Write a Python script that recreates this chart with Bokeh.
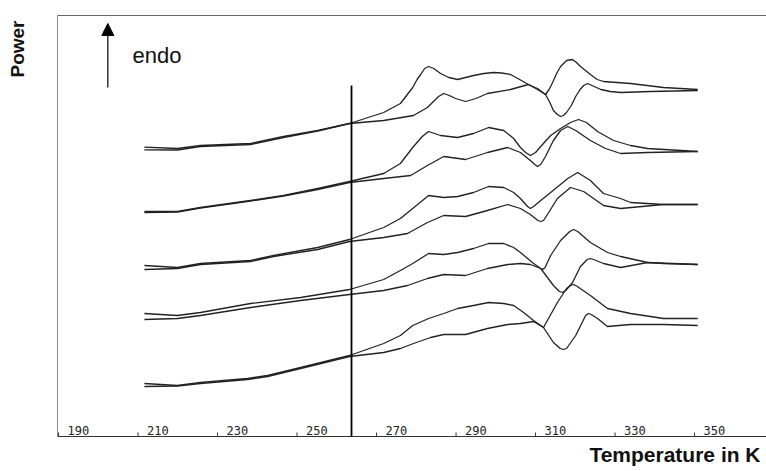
from bokeh.plotting import figure
from bokeh.models import Range1d, Label, Arrow, NormalHead
from bokeh.core.properties import value
from bokeh.embed import file_html
from bokeh.resources import INLINE
import math

# ---- data (temperature in K, power in arbitrary units, curves offset vertically) ----
tick_values = [190, 210, 230, 250, 270, 290, 310, 330, 350]
tick_labels = ["190", "210", "230", "250", "270", "290", "310", "330", "350"]

# pair 1 (top)
T_1a = [211.6, 219.9, 225.7, 238.3, 246.6, 255.2, 263.2, 271.8, 276.0, 279.1, 280.2, 281.1, 282.1, 283.1, 284.4,
        286.1, 288.2, 290.4, 292.4, 294.4, 297.0, 299.4, 301.5, 303.7, 306.0, 308.2, 310.5, 312.5, 313.6, 314.5,
        315.5, 316.3, 317.0, 317.8, 319.0, 320.1, 321.2, 322.1, 323.1, 324.2, 326.4, 328.8, 331.4, 338.9, 350.8]
P_1a = [289.3, 288, 291, 293, 300, 306, 313, 324, 333, 349, 357, 362, 368, 370, 368,
        363, 359, 357, 359, 361, 363, 364, 363.5, 362, 357, 352, 347, 342, 334, 326,
        322, 320, 321, 324, 331, 340, 347, 351, 353, 351, 347, 345, 344, 345, 346]
T_1b = [211.6, 219.9, 225.7, 238.3, 246.6, 255.2, 263.2, 271.8, 279.3, 282.8, 285.6, 286.9, 288.3, 289.9, 292.4,
        295.0, 297.9, 303.7, 308.2, 310.5, 312.5, 313.4, 314.3, 315.3, 316.3, 317.8, 319.3, 320.3, 321.3, 323.8,
        325.5, 327.1, 333.9, 342.2, 350.8]
P_1b = [286.7, 286.5, 290, 292, 299, 305.5, 313, 316, 321, 329, 340, 343, 341, 338, 335,
        338, 343, 347, 352, 348, 342, 347, 354, 363, 370, 376, 377, 374, 370, 362,
        357, 355, 353, 349, 347]

# pair 2
T_2a = [211.6, 219.9, 225.7, 238.3, 246.6, 255.2, 263.2, 271.8, 276.0, 279.1, 281.5, 283.1, 286.1, 290.4, 294.4,
        298.2, 302.0, 304.5, 306.2, 307.5, 308.7, 310.0, 311.3, 313.8, 316.3, 318.8, 320.8, 322.8, 325.6, 329.6,
        333.9, 338.2, 350.8]
P_2a = [225, 225, 229, 236, 241, 248, 255, 263, 273, 289, 300, 305, 301, 299, 303,
        309, 306, 298, 289, 284, 281, 284, 290, 301, 308, 314, 317, 314, 305, 296,
        291, 288, 285]
T_2b = [211.6, 219.9, 225.7, 238.3, 246.6, 255.2, 263.2, 271.8, 278.6, 282.8, 286.9, 292.4, 297.9, 303.0, 306.2,
        308.7, 309.8, 310.5, 311.3, 312.5, 314.5, 316.3, 318.1, 320.1, 323.8, 327.6, 331.4, 338.2, 350.8]
P_2b = [224, 224.5, 228.5, 235.5, 240.5, 247, 254, 258, 261, 271, 280, 277, 284, 289, 284,
        276, 272, 270, 272, 280, 296, 306, 310, 306, 296, 288, 283, 284, 285]

# pair 3
T_3a = [211.6, 219.9, 225.7, 238.3, 244.1, 255.2, 263.2, 271.8, 276.0, 279.1, 283.1, 286.9, 290.4, 294.4, 298.2,
        302.0, 304.5, 306.2, 308.0, 308.7, 309.5, 311.3, 313.8, 318.1, 320.6, 323.8, 327.1, 331.4, 333.9, 342.2,
        350.8]
P_3a = [171, 169, 173, 176, 181, 189, 197, 209, 218, 228, 241, 239, 240, 244, 250,
        249, 244, 238, 230, 228, 230, 236, 244, 258, 264, 256, 243, 238, 234, 232,
        232]
T_3b = [211.6, 219.9, 225.7, 238.3, 244.1, 255.2, 263.2, 271.8, 277.8, 282.8, 286.9, 292.4, 297.9, 303.0, 306.2,
        308.7, 310.6, 311.3, 312.0, 313.3, 315.5, 318.8, 322.1, 327.1, 331.4, 342.2, 350.8]
P_3b = [167, 168, 172, 175, 180, 187, 195, 199, 203, 214, 221, 220, 226, 232, 228,
        222, 216, 215, 216, 224, 238, 249, 245, 231, 228, 232, 232]

# pair 4
T_4a = [211.6, 219.9, 225.7, 238.3, 250.9, 263.2, 271.8, 276.0, 279.1, 283.1, 286.9, 290.4, 294.4, 298.2, 302.0,
        304.5, 306.2, 309.5, 311.3, 311.8, 312.4, 313.8, 316.3, 318.6, 319.6, 320.6, 323.8, 328.1, 331.4, 338.2,
        342.2, 350.8]
P_4a = [123, 121, 124, 133, 139, 147, 157, 166, 173, 183, 182, 184, 188, 193, 193,
        189, 184, 173, 168, 167, 169, 181, 196, 205, 207, 205, 194, 184, 180, 174,
        173, 172]
T_4b = [211.6, 219.9, 225.7, 238.3, 250.9, 263.2, 271.8, 277.8, 282.8, 286.9, 292.4, 297.9, 303.0, 306.2, 308.7,
        311.3, 314.5, 316.0, 316.8, 317.6, 319.3, 321.3, 323.0, 323.8, 324.6, 327.1, 331.4, 338.2, 350.8]
P_4b = [117, 118, 121, 129, 136, 142, 146, 151, 158, 162, 161, 168, 172, 173, 172,
        168, 151, 145, 144, 146, 154, 170, 177, 178, 177, 173, 169, 174, 172]

# pair 5 (bottom)
T_5a = [211.6, 219.9, 225.7, 237.5, 242.6, 250.9, 263.2, 271.8, 276.0, 279.1, 283.1, 286.9, 290.4, 294.4, 298.2,
        302.0, 304.5, 307.0, 309.5, 312.0, 314.5, 316.2, 317.0, 317.8, 320.1, 322.6, 323.3, 324.0, 325.6, 328.1,
        333.9, 342.2, 350.8]
P_5a = [53, 51, 54, 58, 61, 69, 81, 93, 101, 111, 118, 123, 128, 131, 134,
        133, 131, 124, 116, 109, 94, 88, 87, 88, 101, 121, 123, 122, 118, 110,
        112, 112, 111]
T_5b = [211.6, 219.9, 225.7, 237.5, 242.6, 250.9, 263.2, 271.8, 276.0, 279.3, 283.6, 286.9, 292.4, 297.9, 303.0,
        306.2, 309.5, 312.0, 315.5, 317.8, 318.8, 319.6, 320.5, 323.8, 328.1, 333.9, 342.2, 350.8]
P_5b = [50, 50.5, 53, 57, 60, 68, 80, 84, 88, 93, 99, 102, 102, 108, 112,
        113, 115, 109, 134, 148, 151, 152, 150, 141, 128, 123, 118, 118]

curves = [(T_1a, P_1a), (T_1b, P_1b), (T_2a, P_2a), (T_2b, P_2b), (T_3a, P_3a),
          (T_3b, P_3b), (T_4a, P_4a), (T_4b, P_4b), (T_5a, P_5a), (T_5b, P_5b)]

marker_T = 263.7      # vertical reference line
marker_top = 351
arrow_T = 202.4
arrow_P = (349, 413)

# plotting box (the drawn frame) in data units
box_left, box_right = 189.75, 368.1
box_bottom, box_top = 0, 421
tick_len = 4

# ---- figure: the canvas itself is the data area; the frame is drawn explicitly ----
p = figure(width=766, height=471, x_range=Range1d(175.4, 368.1), y_range=Range1d(-35, 436),
           output_backend="svg", toolbar_location=None,
           min_border_left=0, min_border_right=0, min_border_top=0, min_border_bottom=0)
p.grid.visible = False
p.xaxis.visible = False
p.yaxis.visible = False
p.outline_line_color = None
p.background_fill_color = "white"
p.border_fill_color = "white"

# frame lines: bottom axis, left edge, top edge
p.segment(x0=[box_left], y0=[box_bottom], x1=[box_right], y1=[box_bottom], line_color="#333333", line_width=1.2)
p.segment(x0=[box_left], y0=[box_bottom], x1=[box_left], y1=[box_top], line_color="#888888", line_width=1)
p.segment(x0=[box_left], y0=[box_top], x1=[box_right], y1=[box_top], line_color="#666666", line_width=1)
# ticks (pointing inward)
p.segment(x0=tick_values, y0=[box_bottom] * len(tick_values), x1=tick_values,
          y1=[box_bottom + tick_len] * len(tick_values), line_color="#333333", line_width=1)

for T, P in curves:
    p.line(T, P, line_color="#222222", line_width=1.3, line_join="round")

p.segment(x0=[marker_T], y0=[box_bottom], x1=[marker_T], y1=[marker_top], line_color="black", line_width=1.8)

p.text(x=tick_values, y=[box_bottom] * len(tick_values), text=tick_labels, x_offset=9, y_offset=-6,
       text_font=value("DejaVu Sans Mono"), text_font_size="12px", text_color="#222222",
       text_baseline="alphabetic", text_align="left")

p.add_layout(Arrow(end=NormalHead(size=12, fill_color="black", line_color="black"),
                   x_start=arrow_T, y_start=arrow_P[0], x_end=arrow_T, y_end=arrow_P[1],
                   line_color="black", line_width=1.2))

p.add_layout(Label(x=208.6, y=381, text="endo",
                   text_font="Liberation Sans", text_font_size="22px", text_color="#111111",
                   text_baseline="alphabetic", text_align="left"))
p.add_layout(Label(x=179.7, y=359, text="Power", angle=math.pi / 2,
                   text_font="Liberation Sans", text_font_size="19px", text_font_style="bold",
                   text_color="#111111", text_baseline="alphabetic", text_align="left"))
p.add_layout(Label(x=366.6, y=-18, text="Temperature in K",
                   text_font="Liberation Sans", text_font_size="21px", text_font_style="bold",
                   text_color="#111111", text_baseline="alphabetic", text_align="right"))

open("out.html", "w").write(file_html(p, INLINE))
